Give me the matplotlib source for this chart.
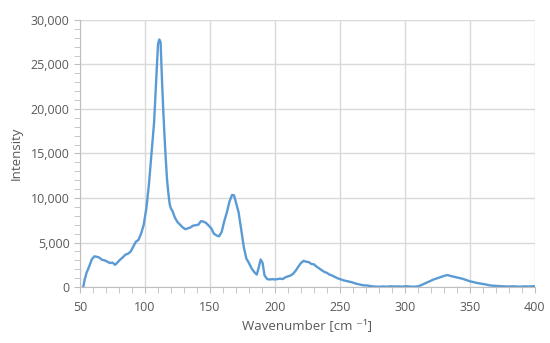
import matplotlib
matplotlib.use("Agg")
import matplotlib.pyplot as plt
from matplotlib.ticker import MultipleLocator, FuncFormatter

plt.rcParams['font.family'] = ['Open Sans', 'DejaVu Sans']

# spectrum
wavenumber = [52.5, 53.5, 55, 57, 59, 61, 63, 65, 67, 69, 71, 73, 75, 77, 79, 81, 83, 85, 87, 89,
              91, 93, 95, 97, 99, 101, 103, 105, 107, 108.5, 110, 111, 112, 113, 114, 115, 116, 117,
              118, 119, 120, 121, 123, 125, 127, 129, 131, 133, 135, 137, 139, 141, 143, 145, 147,
              149, 151, 153, 155, 157, 159, 161, 163, 165, 167, 168.5, 170, 172, 174, 176, 178, 180,
              182, 184, 186, 187.5, 189, 190.5, 192, 194, 196, 198, 200, 202, 204, 206, 208, 210,
              212, 214, 216, 218, 220, 222, 224, 226, 228, 230, 232, 234, 236, 238, 240, 242, 244,
              246, 248, 250, 253, 256, 259, 262, 265, 268, 271, 274, 277, 280, 283, 286, 289, 292,
              295, 298, 301, 304, 307, 310, 313, 316, 319, 322, 325, 328, 331, 333, 335, 338, 341,
              344, 347, 350, 353, 356, 359, 362, 365, 368, 371, 374, 377, 380, 383, 386, 389, 392,
              395, 398, 400]
intensity = [0, 800, 1600, 2300, 3100, 3450, 3400, 3300, 3050, 3000, 2850, 2700, 2750, 2500, 2800,
             3100, 3350, 3650, 3750, 4000, 4550, 5100, 5300, 6000, 7000, 8800, 11500, 15000, 18500,
             23000, 27300, 27800, 27500, 23500, 20000, 17000, 14300, 12000, 10500, 9300, 8800, 8600,
             7800, 7300, 7000, 6700, 6500, 6600, 6700, 6900, 6950, 7000, 7400, 7350, 7200, 6900,
             6600, 6000, 5800, 5700, 6200, 7400, 8400, 9600, 10350, 10300, 9500, 8400, 6500, 4500,
             3200, 2700, 2100, 1700, 1400, 2200, 3100, 2700, 1300, 900, 850, 900, 850, 900, 950,
             900, 1100, 1200, 1300, 1500, 1850, 2300, 2700, 2950, 2850, 2800, 2600, 2550, 2300,
             2100, 1900, 1700, 1600, 1400, 1300, 1150, 1000, 900, 750, 650, 550, 400, 300, 200, 180,
             100, 60, 40, 70, 40, 90, 60, 80, 50, 100, 60, 40, 80, 250, 450, 650, 850, 1000, 1150,
             1300, 1350, 1250, 1150, 1050, 950, 800, 650, 550, 450, 380, 300, 200, 150, 120, 100,
             80, 60, 90, 60, 50, 80, 60, 100, 90]

fig = plt.figure(figsize=(5.5, 3.43), dpi=100)
ax = fig.add_axes([0.1455, 0.163, 0.827, 0.779])

ax.plot(wavenumber, intensity, color='#5B9BD5', lw=1.7)

ax.set_xlim(50, 400)
ax.set_ylim(0, 30000)
ax.xaxis.set_major_locator(MultipleLocator(50))
ax.xaxis.set_minor_locator(MultipleLocator(10))
ax.yaxis.set_major_locator(MultipleLocator(5000))
ax.yaxis.set_minor_locator(MultipleLocator(1000))
ax.yaxis.set_major_formatter(FuncFormatter(lambda v, p: f"{int(v):,}"))

ax.grid(True, which='major', color='#D9D9D9', lw=1)
ax.set_axisbelow(True)
for s in ['top', 'right']:
    ax.spines[s].set_visible(False)
for s in ['left', 'bottom']:
    ax.spines[s].set_color('#BFBFBF')
ax.tick_params(which='both', colors='#BFBFBF', labelcolor='#595959', labelsize=9, length=4)
ax.tick_params(axis='x', pad=6)

ax.set_xlabel('Wavenumber [cm \u207b\u00b9]', color='#595959', fontsize=9.5, labelpad=4)
ax.set_ylabel('Intensity', color='#595959', fontsize=9.5, labelpad=6)

fig.savefig('out.png', dpi=100)
